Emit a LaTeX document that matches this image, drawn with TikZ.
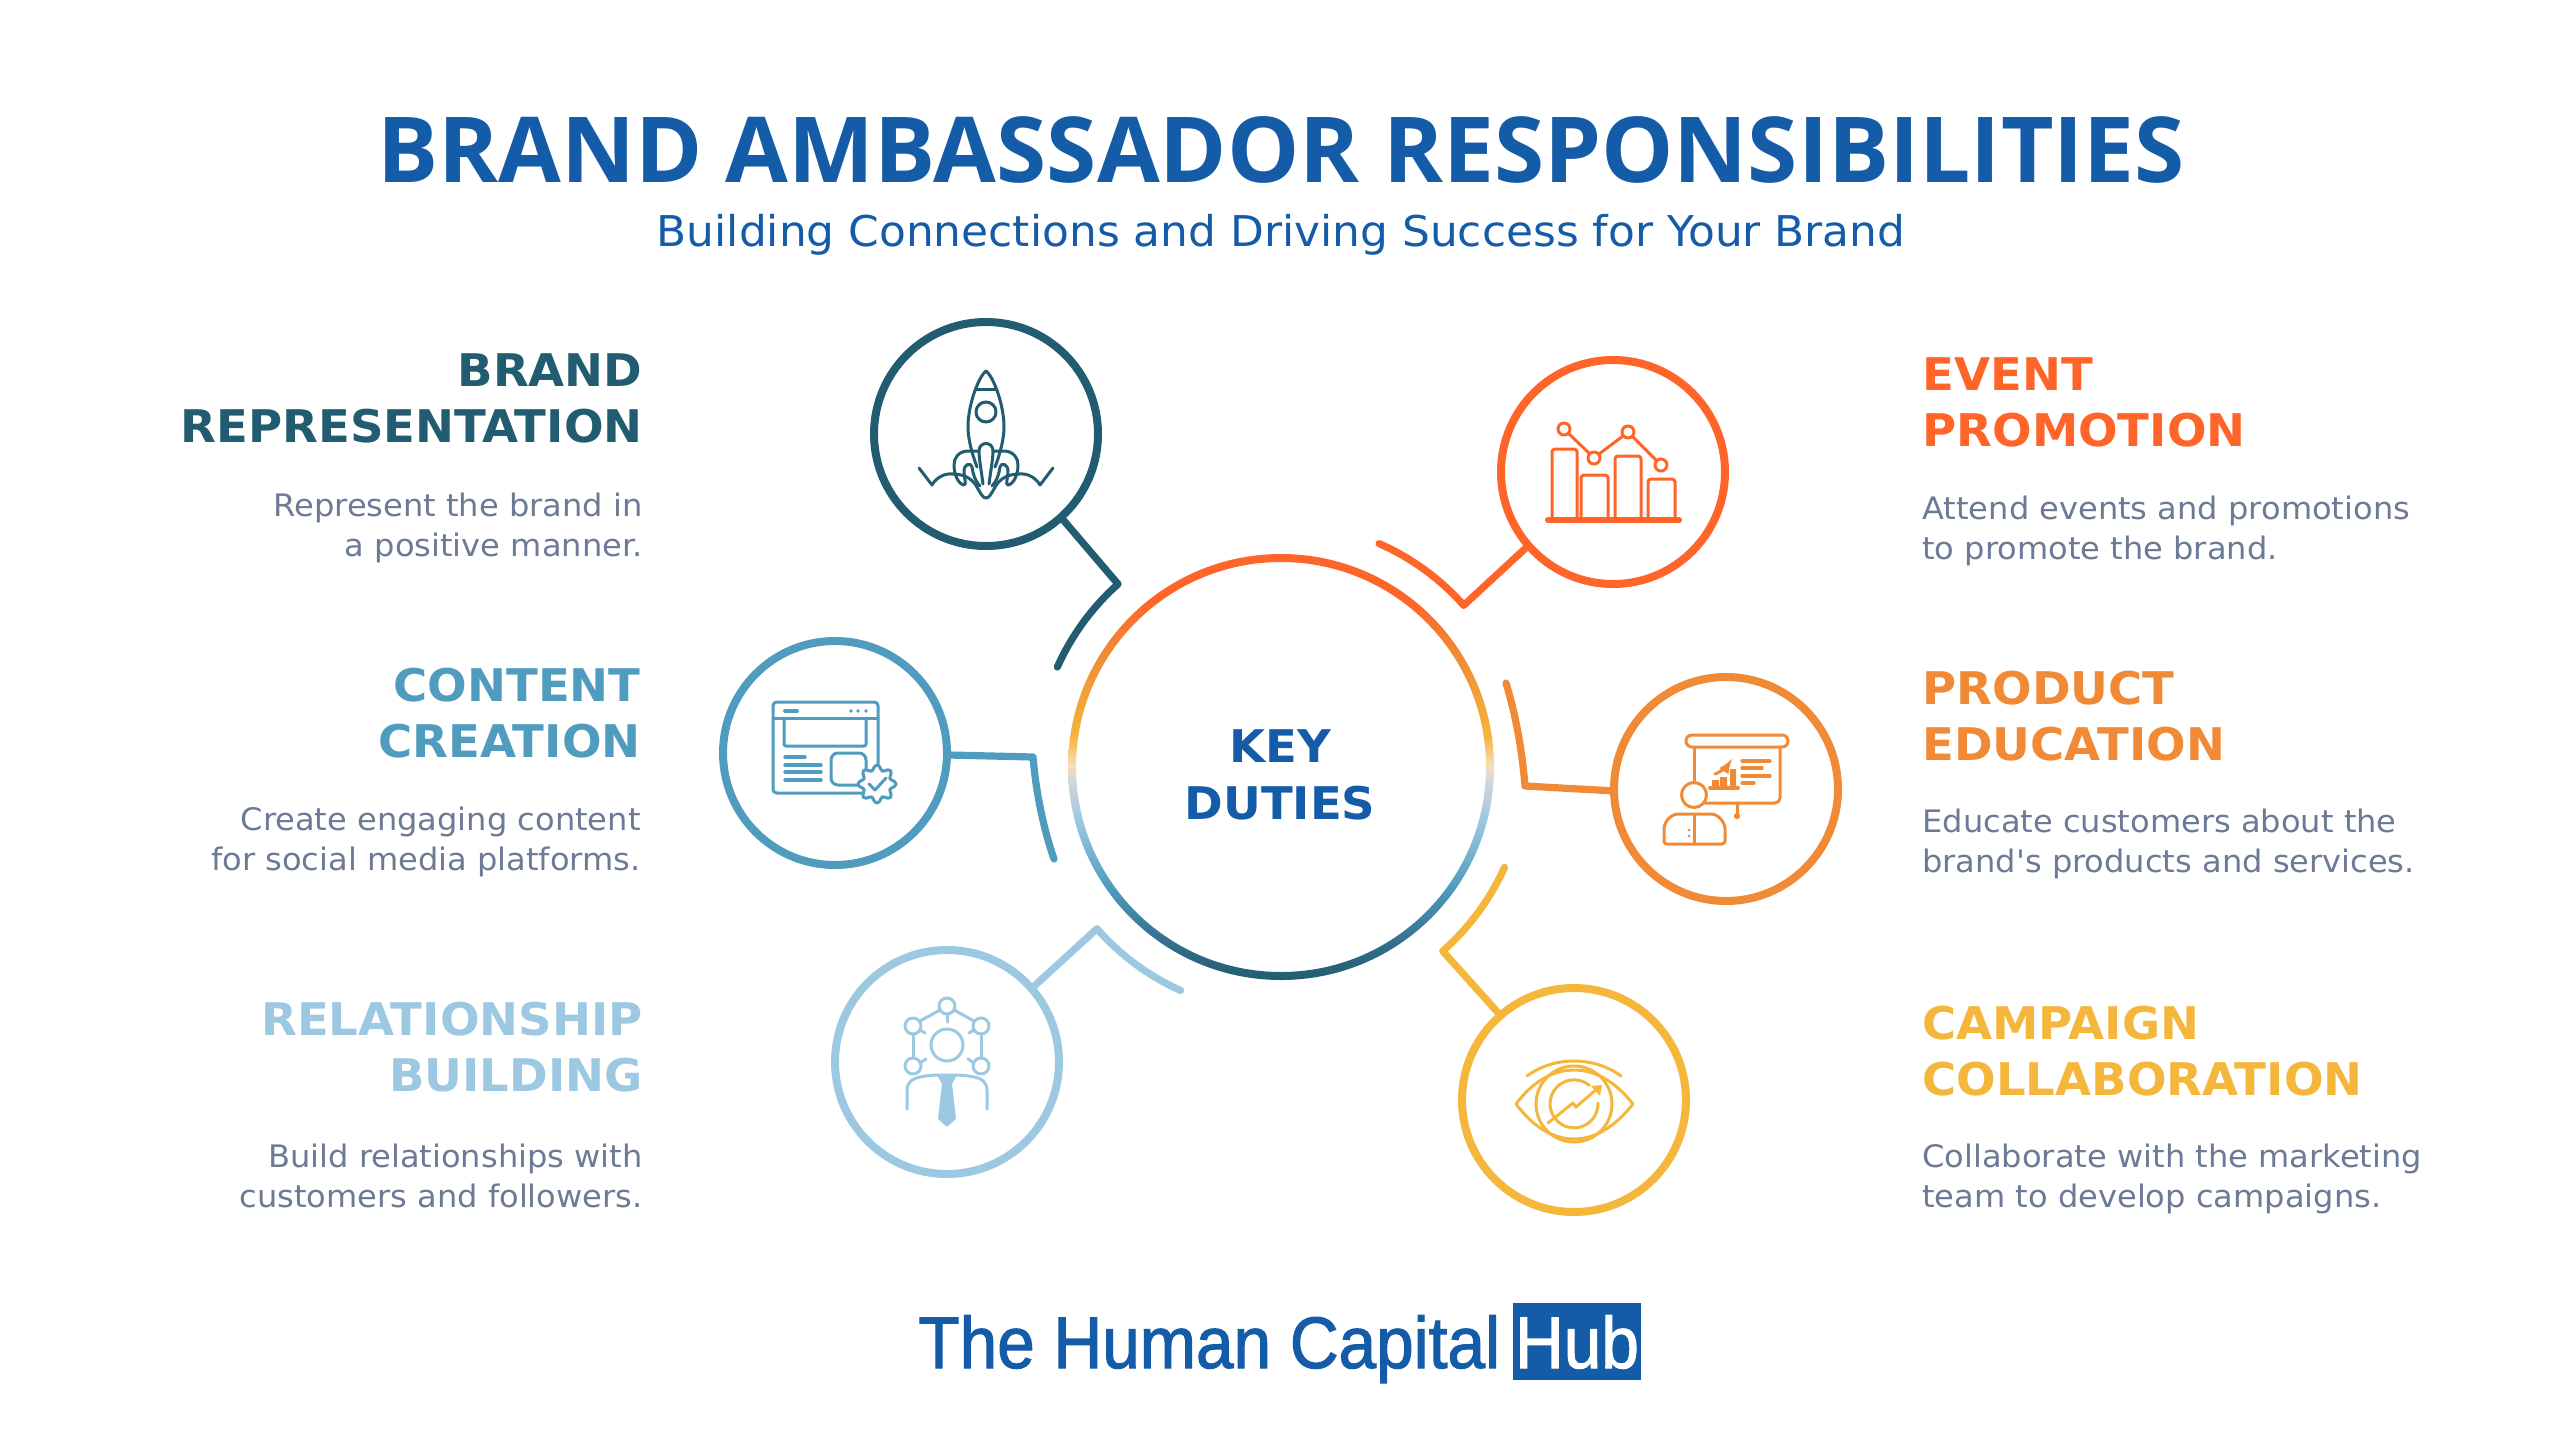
\documentclass[tikz,border=0pt]{standalone}
\usepackage{fontspec}
\usetikzlibrary{calc}
\setmainfont{DejaVu Sans}[Ligatures=TeXOff,FakeStretch=1.035,BoldFeatures={FakeStretch=1.035}]
\newfontfamily\titlefont{Open Sans}
\newfontfamily\logofont[FakeBold=1.5,FakeStretch=0.925]{Liberation Sans}
\definecolor{cteal}{HTML}{225C70}
\definecolor{cblue}{HTML}{4F9CBE}
\definecolor{clight}{HTML}{9CC8E2}
\definecolor{cred}{HTML}{FF6429}
\definecolor{corange}{HTML}{F08A36}
\definecolor{camber}{HTML}{F5B63C}
\definecolor{brand}{HTML}{155CA8}
\definecolor{cgray}{HTML}{6D7A96}
\definecolor{cpale}{HTML}{F9DDB8}
\definecolor{cpale2}{HTML}{D3D7DA}
\definecolor{cmid}{HTML}{35708F}
\pgfdeclareverticalshading{ringgrad}{100bp}{color(0bp)=(cteal); color(25bp)=(cteal); color(29.7bp)=(cmid); color(35.9bp)=(cblue); color(43.8bp)=(clight); color(48.5bp)=(cpale2); color(50.2bp)=(cpale); color(53.5bp)=(camber); color(63.4bp)=(corange); color(69.6bp)=(cred); color(100bp)=(cred)}
\tikzset{
  duty/.style={circle,draw=#1,line width=4pt,minimum size=112pt,inner sep=0pt,outer sep=0pt},
  link/.style={draw=#1,line width=3.6pt,line cap=round,line join=round},
  icon/.style={draw=#1,line width=1.5pt,line cap=round,line join=round},
  headR/.style={font=\bfseries\fontsize{22.5pt}{28pt}\selectfont,align=right,anchor=east,inner sep=0pt},
  headL/.style={font=\bfseries\fontsize{22.5pt}{28pt}\selectfont,align=left,anchor=west,inner sep=0pt},
  descR/.style={font=\fontsize{15.5pt}{20pt}\selectfont,text=cgray,align=right,anchor=east,inner sep=0pt},
  descL/.style={font=\fontsize{15.5pt}{20pt}\selectfont,text=cgray,align=left,anchor=west,inner sep=0pt},
}
\begin{document}
\begin{tikzpicture}[x=0.5pt,y=-0.5pt]
\useasboundingbox (0,0) rectangle (2560,1440);
\fill[white] (0,0) rectangle (2560,1440);
% title
\node[inner sep=0pt,anchor=base,text=brand,font=\titlefont\bfseries\fontsize{45.5pt}{50pt}\selectfont] (title) at (1281,182) {BRAND AMBASSADOR RESPONSIBILITIES};
\node[inner sep=0pt,anchor=base,text=brand,font=\fontsize{21.2pt}{26pt}\selectfont] (subtitle) at (1281,246) {Building Connections and Driving Success for Your Brand};
% hub
\coordinate (hubc) at (1281,767);
\path[shading=ringgrad,even odd rule] (hubc) circle [radius=106.5pt] (hubc) circle [radius=102.5pt];
\node[inner sep=0pt,align=center,text=brand,font=\bfseries\fontsize{22.5pt}{28.5pt}\selectfont] (hub) at (1280,775) {KEY\\DUTIES};
% circles
\node[duty=cteal] (c1) at (986,434) {};
\node[duty=cred] (c2) at (1613,472) {};
\node[duty=corange] (c3) at (1726,789) {};
\node[duty=camber] (c4) at (1574,1100) {};
\node[duty=clight] (c5) at (947,1062) {};
\node[duty=cblue] (c6) at (835,753) {};
% connectors
\coordinate (e1) at ($(hubc)+(131.7:122.5pt)$);
\coordinate (e2) at ($(hubc)+(41.5:122pt)$);
\coordinate (e3) at (1525,786);
\coordinate (t3) at (1506,683);
\coordinate (e4) at ($(hubc)+(-48.7:122.5pt)$);
\coordinate (e5) at ($(hubc)+(221.3:122.5pt)$);
\coordinate (e6) at (1033,757);
\coordinate (t6) at (1054,859);
\draw[link=cteal] (c1.-48.5) -- (e1) arc[start angle=131.7,end angle=155.9,radius=122.5pt];
\draw[link=cred] (c2.221.8) -- (e2) arc[start angle=41.5,end angle=66.3,radius=122pt];
\draw[link=corange] (c3.181) -- (e3) .. controls (1522,750) and (1516,716) .. (t3);
\draw[link=camber] (c4.131.8) -- (e4) arc[start angle=-48.7,end angle=-24.2,radius=122.5pt];
\draw[link=clight] (c5.41.8) -- (e5) arc[start angle=221.3,end angle=245.8,radius=122.5pt];
\draw[link=cblue] (c6.-1) -- (e6) .. controls (1036,792) and (1043,827) .. (t6);
% texts left
\node[headR,text=cteal] (h1) at (643,398) {BRAND\\REPRESENTATION};
\node[descR] (d1) at (643,528) {Represent the brand in\\a positive manner.};
\node[headR,text=cblue] (h6) at (641,713) {CONTENT\\CREATION};
\node[descR] (d6) at (641,842) {Create engaging content\\for social media platforms.};
\node[headR,text=clight] (h5) at (643,1047) {RELATIONSHIP\\BUILDING};
\node[descR] (d5) at (643,1176) {Build relationships with\\customers and followers.};
% texts right
\node[headL,text=cred] (h2) at (1922,402) {EVENT\\PROMOTION};
\node[descL] (d2) at (1922,531) {Attend events and promotions\\to promote the brand.};
\node[headL,text=corange] (h3) at (1922,716) {PRODUCT\\EDUCATION};
\node[descL] (d3) at (1922,844) {Educate customers about the\\brand's products and services.};
\node[headL,text=camber] (h4) at (1922,1051) {CAMPAIGN\\COLLABORATION};
\node[descL] (d4) at (1922,1179) {Collaborate with the marketing\\team to develop campaigns.};
% logo
\node[inner sep=0pt,anchor=base west,text=brand,font=\logofont\fontsize{36.5pt}{40pt}\selectfont] (logo) at (918,1368) {The Human Capital};
\node[fill=brand,text=white,inner sep=0pt,minimum width=64pt,minimum height=38.5pt,anchor=north west] (logobox) at (1513,1303) {};
\node[inner sep=0pt,anchor=base,text=white,font=\logofont\fontsize{36.5pt}{40pt}\selectfont] (logohub) at (1577,1368) {Hub};
% rocket
\begin{scope}[shift={(c1.center)},icon=cteal]
\draw (0,-63) .. controls (-7,-58) and (-18,-30) .. (-18,-7) .. controls (-18,5) and (-14,20) .. (-9,33);
\draw (0,-63) .. controls (7,-58) and (18,-30) .. (18,-7) .. controls (18,5) and (14,20) .. (9,33);
\draw (-10,-45) -- (10,-45);
\draw (0,-22) circle (10);
\draw (-3,50) .. controls (-5,35) and (-7,24) .. (-7,17) .. controls (-7,7) and (7,7) .. (7,17) .. controls (7,24) and (5,35) .. (3,50);
\foreach \s in {1,-1}{
 \begin{scope}[xscale=\s]
 \draw (-8,17) -- (-19,17) .. controls (-28,18) and (-32,24) .. (-32,31) .. controls (-32,40) and (-28,50) .. (-22,51) .. controls (-19,51) and (-22,44) .. (-22,37) .. controls (-22,30) and (-15,28) .. (-14,33) .. controls (-13,40) and (-11,47) .. (-6,52);
 \draw (-33,40) .. controls (-26,40) and (-14,42) .. (-8,55) .. controls (-5,60) and (-3,64) .. (0,64);
 \draw (-67,34) -- (-54,51) .. controls (-50,44) and (-42,39) .. (-33,40);
 \end{scope}
}
\end{scope}
% content icon
\begin{scope}[shift={(c6.center)},icon=cblue]
\draw[rounded corners=1.8pt] (43,20) -- (43,-51) -- (-62,-51) -- (-62,40) -- (30,40);
\draw (-62,-35) -- (43,-35);
\draw[line width=2pt] (-50,-42) -- (-38,-42);
\fill[cblue,draw=none] (16,-42) circle (1.8) (23,-42) circle (1.8) (31,-42) circle (1.8);
\draw[rounded corners=1pt] (-51,-35) -- (-51,-7) -- (31,-7) -- (31,-35);
\draw[line width=1.7pt] (-50,4) -- (-30,4) (-50,12) -- (-14,12) (-50,19) -- (-14,19) (-50,27) -- (-14,27);
\draw[rounded corners=3.5pt] (-4,0) rectangle (31,32);
\draw[fill=white] plot[smooth cycle,samples=48,domain=0:352.5,variable=\t] ({42+(16.5+2.6*cos(8*\t))*cos(\t)},{31+(16.5+2.6*cos(8*\t))*sin(\t)});
\draw (34,31) -- (40,37) -- (51,25);
\end{scope}
% relationship icon
\begin{scope}[shift={(c5.center)},icon=clight]
\draw (0,-56) circle (8) (0,-17) circle (16);
\draw (0,-47) -- (0,-40);
\foreach \s in {1,-1}{
 \begin{scope}[xscale=\s]
 \draw (-34,-36) circle (8) (-34,4) circle (8);
 \draw (-7,-52) -- (-27,-41);
 \draw (-34,-28) -- (-34,-4);
 \draw (-27,-32) -- (-22,-29);
 \draw (-27,1) -- (-21,-3);
 \draw (-40,47) -- (-40,28) .. controls (-40,20) and (-34,16) .. (-27,15) .. controls (-18,13) and (-10,13) .. (0,13);
 \end{scope}
}
\fill[clight,draw=none,rounded corners=0.5pt] (-10,13) -- (10,13) -- (5,22) -- (9,57) -- (0,65) -- (-9,57) -- (-5,22) -- cycle;
\end{scope}
% event icon
\begin{scope}[shift={(c2.center)},icon=cred]
\draw[line width=3pt] (-65,48) -- (66,48);
\draw[rounded corners=1.5pt] (-61,48) -- (-61,-23) -- (-36,-23) -- (-36,48);
\draw[rounded corners=1.5pt] (-32,48) -- (-32,3) -- (-5,3) -- (-5,48);
\draw[rounded corners=1.5pt] (2,48) -- (2,-16) -- (28,-16) -- (28,48);
\draw[rounded corners=1.5pt] (35,48) -- (35,7) -- (62,7) -- (62,48);
\draw (-49,-43) circle (6) (-19,-14) circle (6) (15,-40) circle (6) (48,-7) circle (6);
\draw (-45,-39) -- (-23,-18) (-14,-18) -- (10,-36) (19,-36) -- (44,-11);
\end{scope}
% product icon
\begin{scope}[shift={(c3.center)},icon=corange]
\draw[rounded corners=2.9pt] (-40,-54) rectangle (62,-42);
\draw (-32,-42) -- (-32,-6);
\draw[rounded corners=2.5pt] (54,-42) -- (54,14) -- (-21,14);
\draw (11,14) -- (11,26);
\fill[corange,draw=none] (11,27) circle (3.2);
\draw (-32,6) circle (12.5);
\draw[rounded corners=1.5pt] (-62,55) -- (-62,43) .. controls (-62,33) and (-55,25) .. (-45,25) -- (-18,25) .. controls (-8,25) and (-1,33) .. (-1,43) -- (-1,55) -- cycle;
\draw (-32,25) -- (-32,55);
\fill[corange,draw=none] (-37,41) circle (1.5) (-37,47) circle (1.5);
\draw[line width=2pt] (-16,-1) -- (12,-1);
\fill[corange,draw=none] (-14,-9) rectangle (-7,-1) (-6,-12) rectangle (1,-1) (4,-20) rectangle (10,-1);
\draw[-{latex}] (-11,-15) .. controls (-3,-18) and (2,-24) .. (6,-30);
\draw[line width=1.7pt] (16,-28) -- (44,-28) (16,-21) -- (36,-21) (16,-13) -- (44,-13) (16,-6) -- (28,-6);
\end{scope}
% campaign icon
\begin{scope}[shift={(c4.center)},icon=camber]
\draw (-47,-24) .. controls (-20,-44) and (20,-44) .. (47,-24);
\draw (-58,4) .. controls (-40,-20) and (-20,-30) .. (0,-30) .. controls (20,-30) and (40,-20) .. (59,4) .. controls (40,28) and (20,39) .. (0,39) .. controls (-20,39) and (-40,28) .. (-58,4) -- cycle;
\draw (0,4) circle (38);
\draw (24,3) arc[start angle=2,end angle=-309.5,radius=12pt];
\draw (-26,23) -- (-1,3) -- (2,7) -- (24,-12);
\fill[camber,draw=none] (28,-15) -- (17,-14) -- (26,-4) -- cycle;
\end{scope}
\end{tikzpicture}
\end{document}
